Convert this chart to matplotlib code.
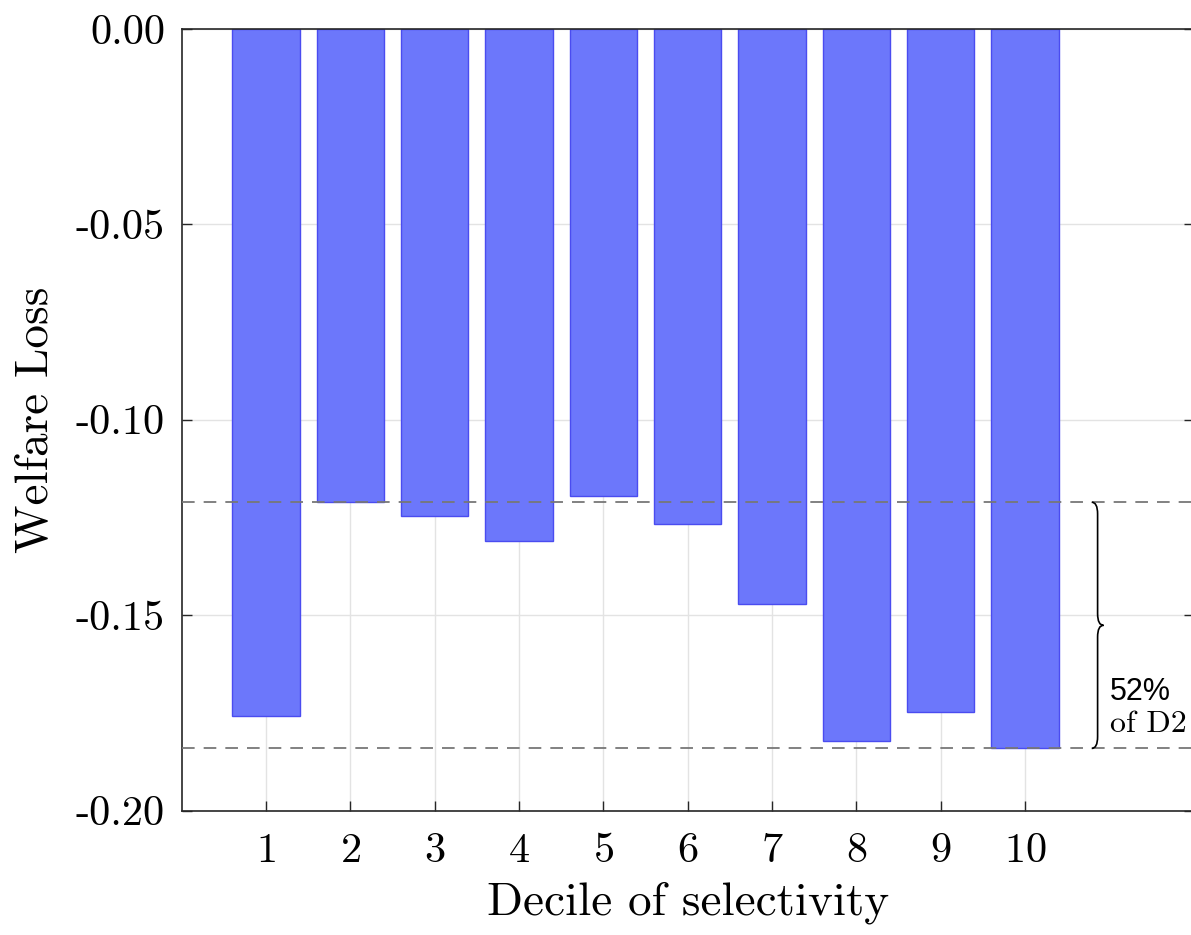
import numpy as np
import matplotlib.pyplot as plt
from matplotlib.path import Path
from matplotlib.patches import PathPatch
from matplotlib.ticker import FormatStrFormatter

plt.rcParams['font.family'] = 'cmr10'
plt.rcParams['mathtext.fontset'] = 'cm'
plt.rcParams['axes.unicode_minus'] = False
plt.rcParams['axes.formatter.use_mathtext'] = True

deciles = [1, 2, 3, 4, 5, 6, 7, 8, 9, 10]
welfare_loss = [-0.1757, -0.1211, -0.1245, -0.1311, -0.1196,
                -0.1268, -0.1472, -0.1823, -0.1749, -0.1841]
yticks = [-0.20, -0.15, -0.10, -0.05, 0.00]


def brace(ax, x, y1, y2, w=0.07, r=0.003, **kw):
    # curly brace pointing right, from y1 (top) to y2 (bottom)
    ym = (y1 + y2) / 2
    verts = [(x - w, y1), (x, y1), (x, y1 - r),
             (x, ym + r),
             (x, ym), (x + w, ym),
             (x, ym), (x, ym - r),
             (x, y2 + r),
             (x, y2), (x - w, y2)]
    codes = [Path.MOVETO, Path.CURVE3, Path.CURVE3,
             Path.LINETO,
             Path.CURVE3, Path.CURVE3,
             Path.CURVE3, Path.CURVE3,
             Path.LINETO,
             Path.CURVE3, Path.CURVE3]
    ax.add_patch(PathPatch(Path(verts, codes), fill=False, **kw))


fig = plt.figure(figsize=(11.91, 9.35), dpi=100)
ax = fig.add_axes([0.1526, 0.1331, 0.8497, 0.8359])

ax.bar(deciles, welfare_loss, width=0.8, color='#6c77fb',
       edgecolor='#4a4cf0', linewidth=1.0, zorder=2)

d2 = welfare_loss[1]
low = min(welfare_loss)
ax.axhline(d2, color='#777777', ls=(0, (7, 5)), lw=1.3, zorder=3)
ax.axhline(low, color='#777777', ls=(0, (7, 5)), lw=1.3, zorder=3)

brace(ax, 10.86, d2, low, color='k', lw=1.2, zorder=4)
pct = (low - d2) / d2 * 100
ax.text(11.01, -0.1717, '%d%%' % round(pct), family='Liberation Sans',
        fontsize=22, ha='left', va='baseline')
ax.text(11.01, -0.1800, 'of D2', fontsize=23, ha='left', va='baseline')

ax.set_xlim(0, 12)
ax.set_ylim(-0.20, 0.0)
ax.set_xticks(deciles)
ax.set_yticks(yticks)
ax.yaxis.set_major_formatter(FormatStrFormatter('%.2f'))
ax.grid(True, color='#e3e3e3', lw=1.0, zorder=0)
ax.set_axisbelow(True)

ax.tick_params(direction='in', length=7, width=1.0, color='#262626',
               top=True, right=True, labelsize=30.5)
ax.tick_params(axis='x', pad=16)
ax.tick_params(axis='y', pad=12)
for s in ax.spines.values():
    s.set_color('#262626')
    s.set_linewidth(1.2)

ax.set_xlabel('Decile of selectivity', fontsize=34, labelpad=8)
ax.set_ylabel('Welfare Loss', fontsize=34, labelpad=14)

fig.savefig('out.png', dpi=100)
